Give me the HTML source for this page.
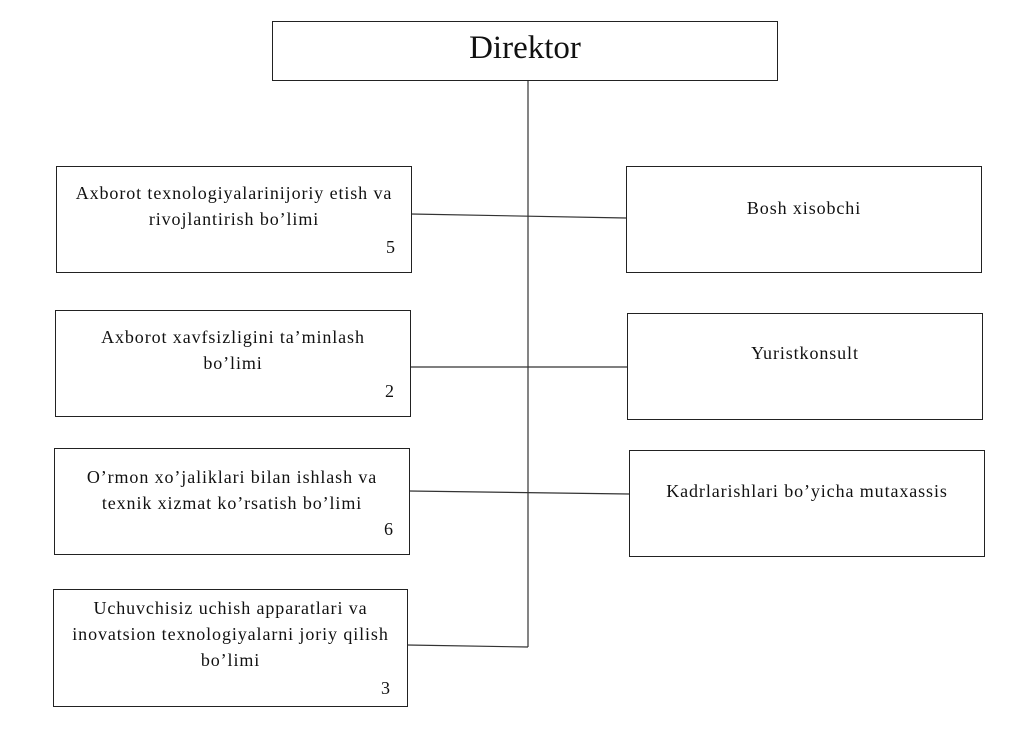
<!DOCTYPE html>
<html><head><meta charset="utf-8"><style>
body{margin:0;width:1028px;height:732px;background:#fff;position:relative;overflow:hidden;font-family:"Liberation Serif",serif;color:#111}
.b{position:absolute;border:1px solid #222;box-sizing:border-box;font-size:18px;letter-spacing:0.9px;line-height:26px;text-align:center}
.t{position:absolute;left:-10px;right:-10px;}
.n{position:absolute;font-size:18px}
</style></head><body>
<svg width="1028" height="732" style="position:absolute;left:0;top:0">
<g stroke="#333" stroke-width="1.2" fill="none">
<line x1="528" y1="80" x2="528" y2="647"/>
<line x1="411" y1="214" x2="626" y2="218"/>
<line x1="410" y1="367" x2="627" y2="367"/>
<line x1="409" y1="491" x2="629" y2="494"/>
<line x1="407" y1="645" x2="528" y2="647"/>
</g></svg>
<div class="b" style="left:272px;top:21px;width:506px;height:60px;font-size:33px;letter-spacing:0;line-height:52px">Direktor</div>

<div class="b" style="left:56px;top:166px;width:356px;height:107px"><div class="t" style="top:13px">Axborot texnologiyalarinijoriy etish va<br>rivojlantirish bo’limi</div><div class="n" style="left:329px;top:67px">5</div></div>
<div class="b" style="left:55px;top:310px;width:356px;height:107px"><div class="t" style="top:13px">Axborot xavfsizligini ta’minlash<br>bo’limi</div><div class="n" style="left:329px;top:67px">2</div></div>
<div class="b" style="left:54px;top:448px;width:356px;height:107px"><div class="t" style="top:15px">O’rmon xo’jaliklari bilan ishlash va<br>texnik xizmat ko’rsatish bo’limi</div><div class="n" style="left:329px;top:67px">6</div></div>
<div class="b" style="left:53px;top:589px;width:355px;height:118px"><div class="t" style="top:5px">Uchuvchisiz uchish apparatlari va<br>inovatsion texnologiyalarni joriy qilish<br>bo’limi</div><div class="n" style="left:327px;top:85px">3</div></div>

<div class="b" style="left:626px;top:166px;width:356px;height:107px"><div class="t" style="top:28px">Bosh xisobchi</div></div>
<div class="b" style="left:627px;top:313px;width:356px;height:107px"><div class="t" style="top:26px">Yuristkonsult</div></div>
<div class="b" style="left:629px;top:450px;width:356px;height:107px"><div class="t" style="top:27px">Kadrlarishlari bo’yicha mutaxassis</div></div>
</body></html>
